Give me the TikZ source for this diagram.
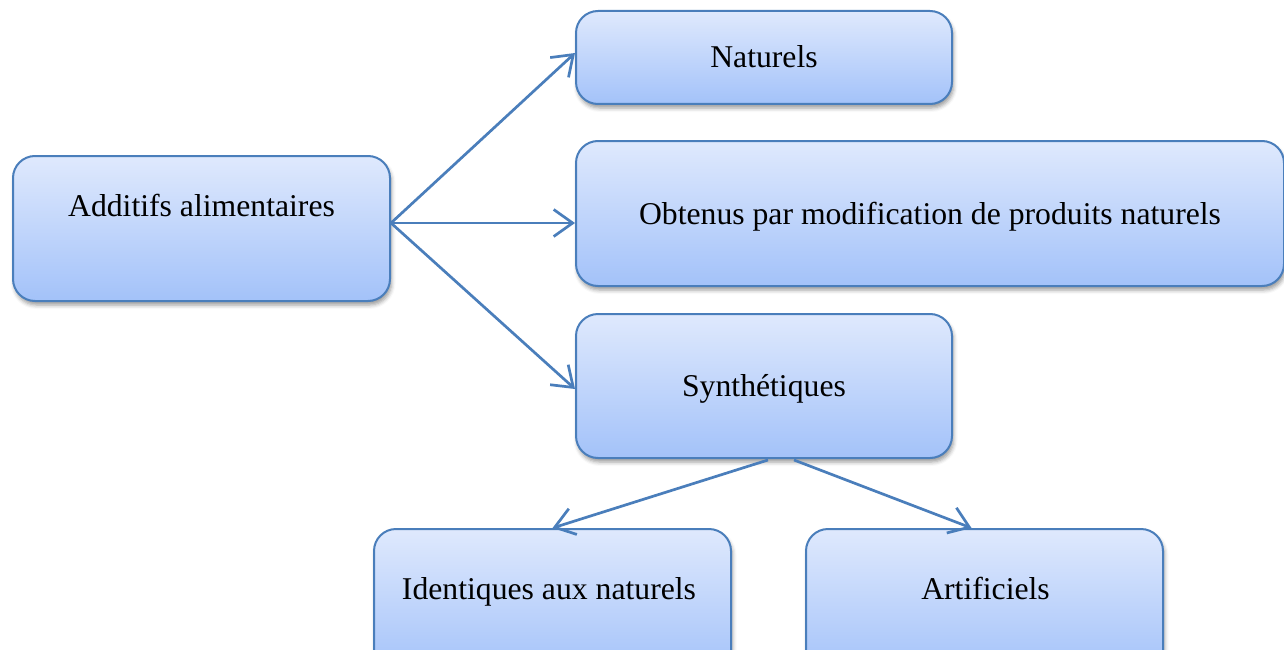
\documentclass[tikz,border=0pt]{standalone}
\usepackage{fontspec}
\setmainfont{Liberation Serif}
\usetikzlibrary{arrows.meta,shadows.blur,calc}
\definecolor{edge}{HTML}{4A7EBB}
\definecolor{topc}{HTML}{DFE9FD}
\definecolor{botc}{HTML}{A3C2F9}
\begin{document}
\begin{tikzpicture}[x=1pt,y=-1pt,
  box/.style={draw=edge, line width=2pt, rounded corners=22pt, top color=topc, bottom color=botc,
    anchor=north west, inner sep=0pt,
    blur shadow={shadow xshift=1.5pt, shadow yshift=-4pt, shadow opacity=40, shadow blur radius=4pt}},
  lbl/.style={font=\fontsize{31.7}{38}\selectfont, anchor=base, text=black, inner sep=0pt},
  conn/.style={draw=edge, line width=2.7pt, -{Straight Barb[length=19pt,width=27pt]}}]
\useasboundingbox (0,0) rectangle (1284,650);
\clip (0,0) rectangle (1284,650);
\node[box, minimum width=377pt, minimum height=145pt] (add) at (12,155) {};
\node[box, minimum width=376pt, minimum height=93pt] (nat) at (575,10) {};
\node[box, minimum width=708pt, minimum height=145pt] (obt) at (575,140) {};
\node[box, minimum width=376pt, minimum height=144pt] (syn) at (575,313) {};
\node[box, minimum width=357pt, minimum height=145pt] (ide) at (373,528) {};
\node[box, minimum width=357pt, minimum height=145pt] (art) at (805,528) {};
\node[lbl] (addt) at ($(add.center)+(0,-12.5)$) {Additifs alimentaires};
\node[lbl] (natt) at ($(nat.center)+(0,10.5)$) {Naturels};
\node[lbl] (obtt) at ($(obt.center)+(0,10.5)$) {Obtenus par modification de produits naturels};
\node[lbl] (synt) at ($(syn.center)+(0,10)$) {Synthétiques};
\node[lbl] (idet) at ($(ide.center)+(-3.5,-2.5)$) {Identiques aux naturels};
\node[lbl] (artt) at ($(art.center)+(1,-2.5)$) {Artificiels};
\coordinate (src) at ($(add.east)+(0,-5.5)$);
\draw[conn] (src) -- ($(nat.west)+(0,-4.5)$);
\draw[conn] (src) -- (src -| obt.west);
\draw[conn] (src) -- ($(syn.west)+(0,3)$);
\draw[conn] ($(syn.south)+(4,1)$) -- (ide.north);
\draw[conn] ($(syn.south)+(30,1)$) -- ($(art.north)+(-13,0)$);
\end{tikzpicture}
\end{document}
